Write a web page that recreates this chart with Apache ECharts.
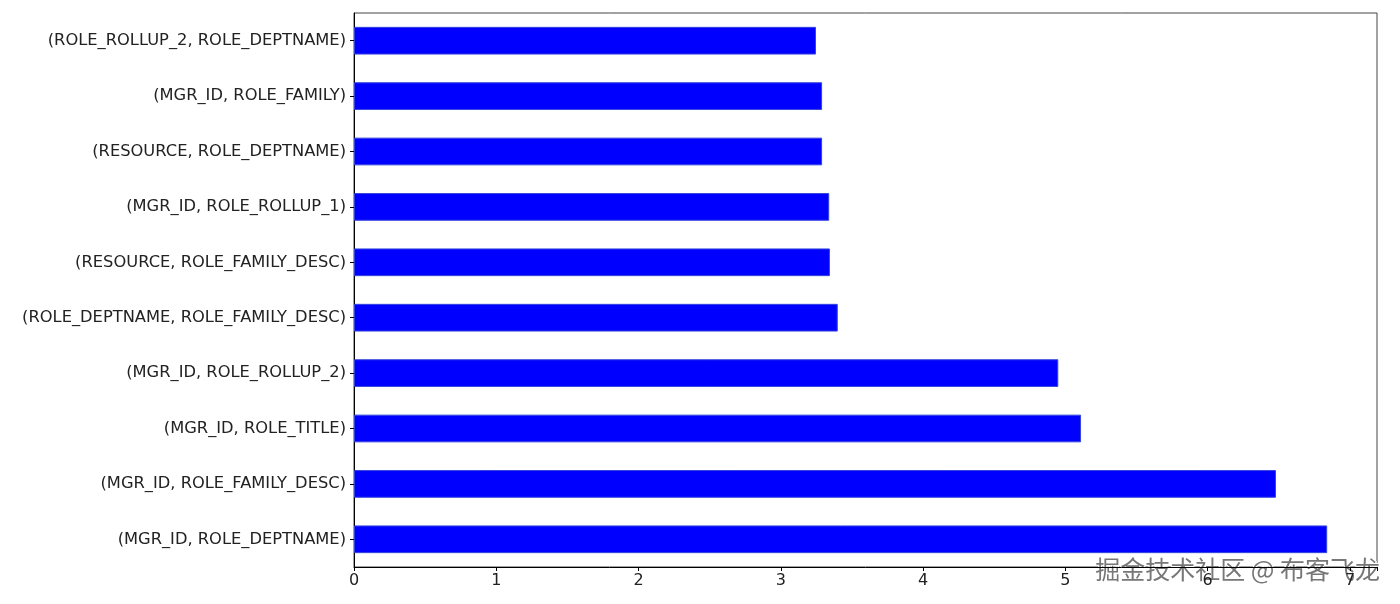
<!DOCTYPE html>
<html>
<head>
<meta charset="utf-8">
<script src="https://cdn.jsdelivr.net/npm/echarts@6/dist/echarts.min.js"></script>
<style>html,body{margin:0;padding:0;background:#fff;}#c{width:1400px;height:604px;}</style>
</head>
<body>
<div id="c"></div>
<script>
// categories listed bottom-to-top
const categories = [
  '(MGR_ID, ROLE_DEPTNAME)',
  '(MGR_ID, ROLE_FAMILY_DESC)',
  '(MGR_ID, ROLE_TITLE)',
  '(MGR_ID, ROLE_ROLLUP_2)',
  '(ROLE_DEPTNAME, ROLE_FAMILY_DESC)',
  '(RESOURCE, ROLE_FAMILY_DESC)',
  '(MGR_ID, ROLE_ROLLUP_1)',
  '(RESOURCE, ROLE_DEPTNAME)',
  '(MGR_ID, ROLE_FAMILY)',
  '(ROLE_ROLLUP_2, ROLE_DEPTNAME)'
];
const values = [6.84, 6.48, 5.11, 4.95, 3.40, 3.345, 3.34, 3.29, 3.29, 3.247];
const xMax = 7.19;
const watermark = '掘金技术社区 @ 布客飞龙';

const chart = echarts.init(document.getElementById('c'), null, {renderer: 'canvas'});
chart.setOption({
  animation: false,
  backgroundColor: '#fff',
  grid: {left: 354, top: 13, right: 23, bottom: 37, show: true, borderColor: '#444', borderWidth: 1},
  xAxis: {
    type: 'value', min: 0, max: xMax, interval: 1,
    splitLine: {show: false},
    axisLine: {show: true, lineStyle: {color: '#000', width: 1}},
    axisTick: {show: true, inside: false, length: 4, lineStyle: {color: '#000'}},
    axisLabel: {
      color: '#222', fontFamily: 'DejaVu Sans', fontSize: 16, margin: 6,
      formatter: v => (Math.abs(v - Math.round(v)) < 1e-9 ? String(Math.round(v)) : '')
    }
  },
  yAxis: {
    type: 'category', data: categories,
    axisLine: {show: true, lineStyle: {color: '#000', width: 1}},
    axisTick: {show: true, alignWithLabel: true, length: 4, lineStyle: {color: '#000'}},
    axisLabel: {color: '#222', fontFamily: 'DejaVu Sans', fontSize: 16.3, margin: 8}
  },
  series: [{
    type: 'bar', data: values, barWidth: '50%',
    itemStyle: {color: '#0000ff', borderColor: '#3344dd', borderWidth: 1}
  }],
  graphic: [{
    type: 'text', right: 19, top: 556,
    style: {
      text: watermark, fontFamily: 'Noto Sans CJK SC', fontSize: 25,
      fill: '#777', stroke: '#fff', lineWidth: 2
    }
  }]
});
</script>
</body>
</html>
